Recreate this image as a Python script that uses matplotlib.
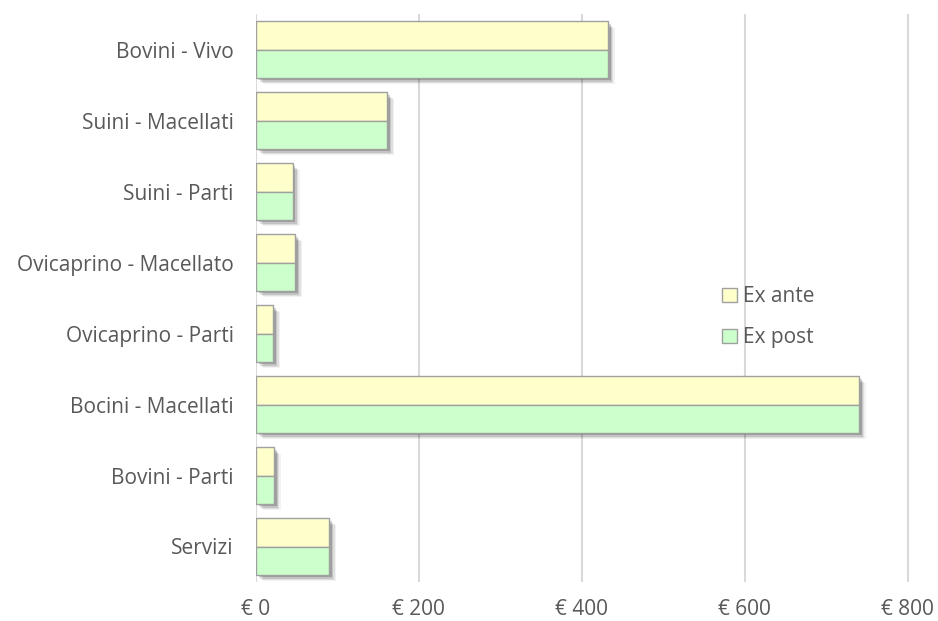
import matplotlib
matplotlib.use("Agg")
import matplotlib.pyplot as plt
import matplotlib.patheffects as pe
import numpy as np

plt.rcParams['font.family'] = ['Open Sans', 'DejaVu Sans']

categories = ["Bovini - Vivo", "Suini - Macellati", "Suini - Parti",
              "Ovicaprino - Macellato", "Ovicaprino - Parti",
              "Bocini - Macellati", "Bovini - Parti", "Servizi"]
ex_ante = [432, 161, 45, 48, 21, 740, 22, 90]
ex_post = [432, 161, 45, 48, 21, 740, 22, 90]
x_ticks = [0, 200, 400, 600, 800]

text_color = "#595959"
grid_color = "#D9D9D9"
edge_color = "#A0A0A0"
fs = 15

fig = plt.figure(figsize=(9.38, 6.21), dpi=100)
ax = fig.add_axes([256 / 938, 1 - 582 / 621, 668 / 938, 568 / 621])

y = np.arange(len(categories))
h = 0.395

# soft drop shadow under each bar
shadow = [pe.SimplePatchShadow(offset=(5, -5), shadow_rgbFace="#000000", alpha=0.05),
          pe.SimplePatchShadow(offset=(4, -4), shadow_rgbFace="#000000", alpha=0.08),
          pe.SimplePatchShadow(offset=(3, -3), shadow_rgbFace="#000000", alpha=0.12),
          pe.SimplePatchShadow(offset=(2, -2), shadow_rgbFace="#000000", alpha=0.18),
          pe.Normal()]

ax.barh(y - h / 2, ex_ante, height=h, color="#FFFFCC", edgecolor=edge_color,
        linewidth=1, label="Ex ante", path_effects=shadow, zorder=3)
ax.barh(y + h / 2, ex_post, height=h, color="#CCFFCC", edgecolor=edge_color,
        linewidth=1, label="Ex post", path_effects=shadow, zorder=3)

ax.set_ylim(len(categories) - 0.5, -0.5)
ax.set_xlim(0, 820)
ax.set_yticks(y)
ax.set_yticklabels(categories, fontsize=fs, color=text_color)
ax.set_xticks(x_ticks)
ax.set_xticklabels([f"€ {v}" for v in x_ticks], fontsize=fs, color=text_color)
ax.tick_params(axis="both", length=0)
ax.tick_params(axis="x", pad=12)
ax.tick_params(axis="y", pad=16)

ax.grid(axis="x", color=grid_color, linewidth=1.5, zorder=0)
for s in ax.spines.values():
    s.set_visible(False)

leg = ax.legend(loc="center left", bbox_to_anchor=(0.67, 0.466), frameon=False,
                fontsize=fs, handlelength=0.7, handleheight=0.7,
                handletextpad=0.3, labelspacing=0.97, labelcolor=text_color)
for p in leg.get_patches():
    p.set_path_effects([])

fig.savefig("out.png", dpi=100)
